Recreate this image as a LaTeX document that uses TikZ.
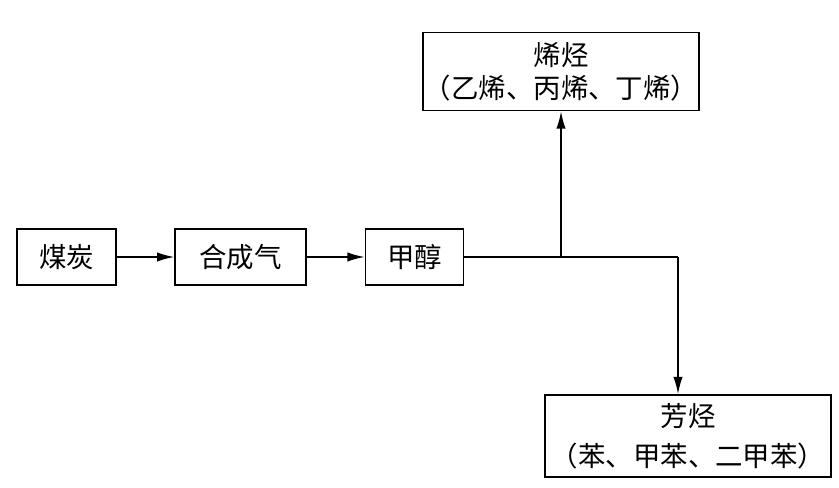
\documentclass[tikz,border=0pt]{standalone}
\usepackage{fontspec}
\setmainfont{Noto Sans CJK SC}
\usetikzlibrary{shapes,arrows.meta}

\begin{document}
\begin{tikzpicture}[x=0.75pt, y=-0.75pt, node distance = 130.5pt, auto,
    every node/.style={font=\fontsize{20.6pt}{24pt}\selectfont}]
  \tikzstyle{block} = [rectangle, draw, line width=1.2pt, align=center,
    inner sep=0pt, minimum height=42pt]
  \tikzstyle{product} = [rectangle, draw, line width=1.2pt, align=center,
    inner sep=0pt]
  \tikzstyle{line} = [draw, line width=1.2pt, -{Latex[length=13pt,width=7pt]}]

  \useasboundingbox (0,0) rectangle (839,488);

  % Place nodes
  \node [block, minimum width=74pt] (coal) at (66.5,257) {煤炭};
  \node [block, right of=coal, minimum width=98pt] (syngas) {合成气};
  \node [block, right of=syngas, minimum width=73.5pt] (methanol) {甲醇};
  \node [product, minimum width=207pt, minimum height=58.5pt,
    font=\fontsize{20.6pt}{25pt}\selectfont] (olefin) at (561,71.5)
    {烯烃\\（乙烯、丙烯、丁烯）};
  \node [product, minimum width=214.5pt, minimum height=61.5pt,
    font=\fontsize{20.6pt}{30pt}\selectfont] (aromatic) at (688,436)
    {芳烃\\（苯、甲苯、二甲苯）};
  \coordinate (split) at (olefin |- methanol);
  \coordinate (turn) at (678,257);

  % Draw edges
  \path [line] (coal) -- (syngas);
  \path [line] (syngas) -- (methanol);
  \draw [line width=1.2pt] (methanol) -- (turn);
  \path [line] (split) -- (olefin);
  \path [line] (turn) -- (turn |- aromatic.north);

\end{tikzpicture}
\end{document}
